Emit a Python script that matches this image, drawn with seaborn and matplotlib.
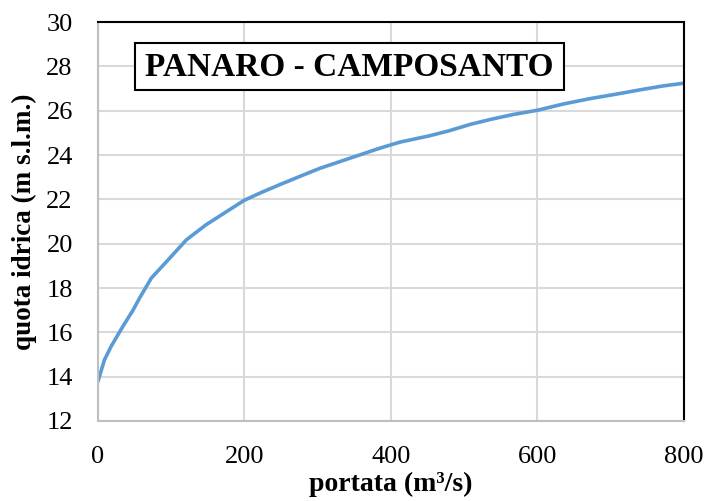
import numpy as np
import pandas as pd
import seaborn as sns
import matplotlib.pyplot as plt
from matplotlib.patches import Rectangle

# curva di deflusso
portata = [0, 9, 18, 34, 48, 57, 73, 94, 121, 148, 180, 200, 221, 248, 276, 303,
           330, 357, 384, 412, 453, 480, 508, 535, 567, 600, 635, 671, 708, 745,
           772, 800]
quota = [13.77, 14.76, 15.36, 16.26, 17.0, 17.55, 18.45, 19.2, 20.18, 20.86, 21.54,
         21.96, 22.28, 22.66, 23.04, 23.4, 23.7, 24.0, 24.3, 24.58, 24.87, 25.1,
         25.38, 25.6, 25.83, 26.02, 26.3, 26.54, 26.75, 26.97, 27.12, 27.24]
x_ticks = [0, 200, 400, 600, 800]
y_ticks = [12, 14, 16, 18, 20, 22, 24, 26, 28, 30]
titolo = "PANARO - CAMPOSANTO"

sns.set_style("white")
plt.rcParams['font.family'] = ['Liberation Serif', 'DejaVu Serif']
plt.rcParams['text.color'] = 'black'
plt.rcParams['axes.labelcolor'] = 'black'

df = pd.DataFrame({'portata': portata, 'quota': quota})

fig = plt.figure(figsize=(7.04, 5.01), dpi=100)
ax = fig.add_axes([0.139, 0.1597, 0.8326, 0.7963])

sns.lineplot(data=df, x='portata', y='quota', ax=ax, color='#5B9BD5', linewidth=2.6)

ax.set_xlim(0, 800)
ax.set_ylim(12, 30)
ax.set_xticks(x_ticks)
ax.set_yticks(y_ticks)
ax.grid(True, color='#d9d9d9', linewidth=1.5)
ax.set_axisbelow(True)

ax.tick_params(axis='both', length=0, labelsize=19, colors='black')
ax.tick_params(axis='y', pad=18)
ax.tick_params(axis='x', pad=18)

for s in ['left', 'bottom']:
    ax.spines[s].set_color('#bfbfbf')
    ax.spines[s].set_linewidth(1.5)
for s in ['top', 'right']:
    ax.spines[s].set_color('black')
    ax.spines[s].set_linewidth(1.5)

ax.set_xlabel('portata (m³/s)', fontsize=20, fontweight='bold')
ax.set_ylabel('quota idrica (m s.l.m.)', fontsize=19.5, fontweight='bold')
ax.xaxis.set_label_coords(0.5, -0.128)
ax.yaxis.set_label_coords(-0.104, 0.5)

# riquadro del titolo
fig.patches.append(Rectangle((135 / 704, 1 - 90 / 501), 429 / 704, 47 / 501,
                             transform=fig.transFigure, facecolor='white',
                             edgecolor='black', linewidth=1.5, zorder=5))
fig.text(349.5 / 704, 1 - 67 / 501, titolo, fontsize=24, fontweight='bold',
         ha='center', va='center', zorder=6)

fig.savefig('out.png', dpi=100)
